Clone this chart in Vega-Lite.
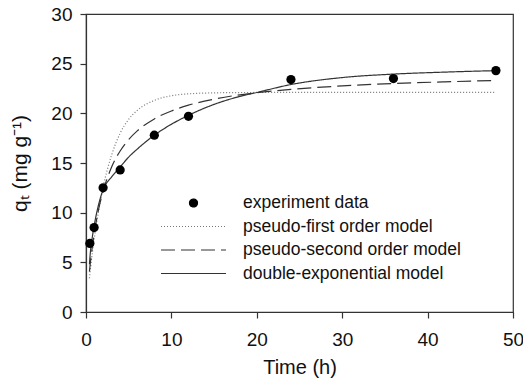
{
  "$schema": "https://vega.github.io/schema/vega-lite/v6.json",
  "width": 427,
  "height": 298,
  "autosize": "none",
  "padding": {"left": 86, "top": 14, "right": 10, "bottom": 72},
  "config": {
    "view": {"stroke": "#333", "strokeWidth": 1.2},
    "font": "Liberation Sans",
    "axis": {"grid": false, "domainColor": "#333", "tickColor": "#333", "labelColor": "#111", "titleColor": "#111", "labelFont": "Liberation Sans", "titleFont": "Liberation Sans", "titleFontWeight": "normal", "domainWidth": 1.2, "tickWidth": 1.2}
  },
  "datasets": {
    "obs": [
      {"t": 0.45, "q": 6.9},
      {"t": 0.95, "q": 8.5},
      {"t": 2, "q": 12.5},
      {"t": 4, "q": 14.3},
      {"t": 8, "q": 17.8},
      {"t": 12, "q": 19.7},
      {"t": 24, "q": 23.4},
      {"t": 36, "q": 23.5},
      {"t": 48, "q": 24.3}
    ],
    "fits": [
      {"series": "pseudo-first order model", "t": 0.4, "q": 3.4},
      {"series": "pseudo-first order model", "t": 0.5, "q": 4.2},
      {"series": "pseudo-first order model", "t": 0.75, "q": 6.0},
      {"series": "pseudo-first order model", "t": 1, "q": 7.6},
      {"series": "pseudo-first order model", "t": 1.5, "q": 10.3},
      {"series": "pseudo-first order model", "t": 2, "q": 12.55},
      {"series": "pseudo-first order model", "t": 3, "q": 15.8},
      {"series": "pseudo-first order model", "t": 4, "q": 18.0},
      {"series": "pseudo-first order model", "t": 5, "q": 19.4},
      {"series": "pseudo-first order model", "t": 6, "q": 20.3},
      {"series": "pseudo-first order model", "t": 8, "q": 21.3},
      {"series": "pseudo-first order model", "t": 10, "q": 21.77},
      {"series": "pseudo-first order model", "t": 12, "q": 21.96},
      {"series": "pseudo-first order model", "t": 15, "q": 22.06},
      {"series": "pseudo-first order model", "t": 20, "q": 22.1},
      {"series": "pseudo-first order model", "t": 30, "q": 22.1},
      {"series": "pseudo-first order model", "t": 48, "q": 22.1},
      {"series": "pseudo-second order model", "t": 0.4, "q": 4.06},
      {"series": "pseudo-second order model", "t": 0.5, "q": 4.87},
      {"series": "pseudo-second order model", "t": 0.75, "q": 6.64},
      {"series": "pseudo-second order model", "t": 1, "q": 8.12},
      {"series": "pseudo-second order model", "t": 1.5, "q": 10.43},
      {"series": "pseudo-second order model", "t": 2, "q": 12.15},
      {"series": "pseudo-second order model", "t": 3, "q": 14.59},
      {"series": "pseudo-second order model", "t": 4, "q": 16.21},
      {"series": "pseudo-second order model", "t": 5, "q": 17.36},
      {"series": "pseudo-second order model", "t": 6, "q": 18.23},
      {"series": "pseudo-second order model", "t": 8, "q": 19.44},
      {"series": "pseudo-second order model", "t": 10, "q": 20.24},
      {"series": "pseudo-second order model", "t": 12, "q": 20.82},
      {"series": "pseudo-second order model", "t": 15, "q": 21.43},
      {"series": "pseudo-second order model", "t": 20, "q": 22.08},
      {"series": "pseudo-second order model", "t": 24, "q": 22.41},
      {"series": "pseudo-second order model", "t": 30, "q": 22.76},
      {"series": "pseudo-second order model", "t": 36, "q": 23.0},
      {"series": "pseudo-second order model", "t": 42, "q": 23.17},
      {"series": "pseudo-second order model", "t": 48, "q": 23.31},
      {"series": "double-exponential model", "t": 0.4, "q": 4.8},
      {"series": "double-exponential model", "t": 0.5, "q": 5.9},
      {"series": "double-exponential model", "t": 0.75, "q": 7.6},
      {"series": "double-exponential model", "t": 1, "q": 8.9},
      {"series": "double-exponential model", "t": 1.5, "q": 10.9},
      {"series": "double-exponential model", "t": 2, "q": 12.3},
      {"series": "double-exponential model", "t": 3, "q": 13.6},
      {"series": "double-exponential model", "t": 4, "q": 14.6},
      {"series": "double-exponential model", "t": 5, "q": 15.6},
      {"series": "double-exponential model", "t": 6, "q": 16.4},
      {"series": "double-exponential model", "t": 8, "q": 17.8},
      {"series": "double-exponential model", "t": 10, "q": 18.9},
      {"series": "double-exponential model", "t": 12, "q": 19.8},
      {"series": "double-exponential model", "t": 15, "q": 20.9},
      {"series": "double-exponential model", "t": 18, "q": 21.7},
      {"series": "double-exponential model", "t": 20, "q": 22.1},
      {"series": "double-exponential model", "t": 24, "q": 22.9},
      {"series": "double-exponential model", "t": 30, "q": 23.6},
      {"series": "double-exponential model", "t": 36, "q": 23.95},
      {"series": "double-exponential model", "t": 42, "q": 24.15},
      {"series": "double-exponential model", "t": 48, "q": 24.3}
    ]
  },
  "layer": [
    {
      "data": {"name": "fits"},
      "mark": {"type": "line", "strokeWidth": 1.2, "interpolate": "monotone"},
      "encoding": {
        "x": {"field": "t", "type": "quantitative", "scale": {"domain": [0, 50]},
          "axis": {"title": "Time (h)", "values": [0, 10, 20, 30, 40, 50], "tickSize": 6, "labelFontSize": 19, "titleFontSize": 20, "labelPadding": 12, "titlePadding": 8, "labelFlush": false}},
        "y": {"field": "q", "type": "quantitative", "scale": {"domain": [0, 30]},
          "axis": {"title": "qₜ (mg g⁻¹)", "values": [0, 5, 10, 15, 20, 25, 30], "tickSize": 6, "labelFontSize": 19, "titleFontSize": 21, "labelPadding": 8, "titlePadding": 20, "labelFlush": false}},
        "detail": {"field": "series"},
        "strokeDash": {"field": "series", "type": "nominal",
          "scale": {"domain": ["experiment data", "pseudo-first order model", "pseudo-second order model", "double-exponential model"],
                    "range": [[1, 0], [1, 2], [14, 6], [1, 0]]},
          "legend": {
            "title": null, "orient": "none", "legendX": 74, "legendY": 180,
            "padding": 0, "symbolType": "stroke", "symbolSize": 4225, "symbolStrokeWidth": 1.2,
            "symbolStrokeColor": "#333", "clipHeight": 18, "rowPadding": 5.5, "labelOffset": 16,
            "labelFontSize": 17.5, "labelLimit": 0, "labelColor": "#111", "labelFont": "Liberation Sans",
            "encode": {"symbols": {"update": {
              "shape": {"signal": "datum.value === 'experiment data' ? 'circle' : 'stroke'"},
              "size": {"signal": "datum.value === 'experiment data' ? 64 : 4225"},
              "fill": {"signal": "datum.value === 'experiment data' ? '#000' : 'transparent'"},
              "stroke": {"signal": "datum.value === 'experiment data' ? '#000' : (datum.value === 'pseudo-first order model' ? '#777' : '#333')"}
            }}}
          }
        },
        "color": {"field": "series", "type": "nominal",
          "scale": {"domain": ["pseudo-first order model", "pseudo-second order model", "double-exponential model"], "range": ["#777", "#333", "#333"]},
          "legend": null}
      }
    },
    {
      "data": {"name": "obs"},
      "mark": {"type": "point", "filled": true, "color": "#000", "size": 85, "opacity": 1},
      "encoding": {
        "x": {"field": "t", "type": "quantitative"},
        "y": {"field": "q", "type": "quantitative"}
      }
    }
  ]
}
